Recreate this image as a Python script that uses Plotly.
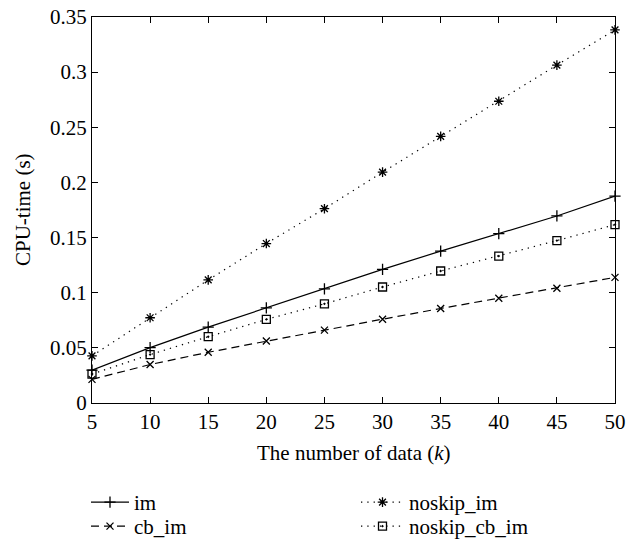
import plotly.graph_objects as go

# Number of data (thousands) on the x axis
data_k = [5, 10, 15, 20, 25, 30, 35, 40, 45, 50]

# CPU time in seconds for each method
im = [0.0298, 0.0502, 0.0688, 0.0863, 0.1034, 0.1212, 0.1377, 0.1536, 0.1696, 0.1876]
noskip_im = [0.0427, 0.0773, 0.1116, 0.1446, 0.1762, 0.2093, 0.2418, 0.2736, 0.3064, 0.3383]
cb_im = [0.0214, 0.0349, 0.0460, 0.0562, 0.0661, 0.0760, 0.0857, 0.0950, 0.1040, 0.1139]
noskip_cb_im = [0.0262, 0.0439, 0.0601, 0.0758, 0.0899, 0.1052, 0.1197, 0.1332, 0.1473, 0.1617]

x_ticks = [5, 10, 15, 20, 25, 30, 35, 40, 45, 50]
y_ticks = [0, 0.05, 0.1, 0.15, 0.2, 0.25, 0.3, 0.35]
y_tick_text = ["0", "0.05", "0.1", "0.15", "0.2", "0.25", "0.3", "0.35"]

FONT = "Liberation Serif, Times New Roman, serif"
FS = 21

W, H = 638, 541
L, R, T, B = 92, 23, 17, 138

DOTTED = "1.3px,5px"
DASHED = "8px,5px"

# name, values, dash style, marker symbol, marker size,
# legend id, legend box (left, top) in px, legend item width
series = [
    ("im", im, "solid", "cross-thin-open", 8, "legend", (86, 482), 38),
    ("noskip_im", noskip_im, DOTTED, "asterisk-open", 8, "legend2", (356, 482), 43),
    ("cb_im", cb_im, DASHED, "x-thin-open", 7, "legend3", (86, 506), 38),
    ("noskip_cb_im", noskip_cb_im, DOTTED, "square-open-dot", 8, "legend4", (356, 506), 43),
]

fig = go.Figure()
legends = {}
for name, vals, dash, symbol, size, leg, (lx, ly), iw in series:
    fig.add_trace(go.Scatter(
        x=data_k, y=vals, name=name, mode="lines+markers",
        line=dict(color="black", width=1.2, dash=dash),
        marker=dict(symbol=symbol, size=size, color="black",
                    line=dict(color="black", width=1.3)),
        cliponaxis=False, legend=leg,
    ))
    legends[leg] = dict(
        orientation="v", xref="container", yref="container",
        x=lx / W, y=1 - ly / H, xanchor="left", yanchor="top",
        font=dict(family=FONT, size=FS, color="black"),
        itemwidth=iw, bgcolor="rgba(0,0,0,0)", borderwidth=0,
    )

axis_common = dict(
    showline=True, linecolor="black", linewidth=1.3, mirror="ticks",
    ticks="inside", ticklen=6, tickwidth=1, tickcolor="black",
    showgrid=False, zeroline=False,
    tickfont=dict(family=FONT, size=FS, color="black"),
)

fig.update_xaxes(range=[5, 50], tickvals=x_ticks, **axis_common)
fig.update_yaxes(range=[0, 0.35], tickvals=y_ticks, ticktext=y_tick_text,
                 **axis_common)

plot_h = H - T - B
plot_w = W - L - R

# Axis titles, centred on the plot area
fig.add_annotation(
    text="The number of data (<i>k</i>)", xref="paper", yref="paper",
    x=0.5, y=-(453 - (H - B)) / plot_h,
    xanchor="center", yanchor="middle", showarrow=False,
    font=dict(family=FONT, size=FS, color="black"),
)
fig.add_annotation(
    text="CPU-time (s)", xref="paper", yref="paper",
    x=(23 - L) / plot_w, y=0.5,
    xanchor="center", yanchor="middle", textangle=-90, showarrow=False,
    font=dict(family=FONT, size=FS, color="black"),
)

fig.update_layout(
    width=W, height=H,
    margin=dict(l=L, r=R, t=T, b=B, autoexpand=False),
    paper_bgcolor="white", plot_bgcolor="white",
    showlegend=True,
    **legends,
)

fig.write_html("out.html")
